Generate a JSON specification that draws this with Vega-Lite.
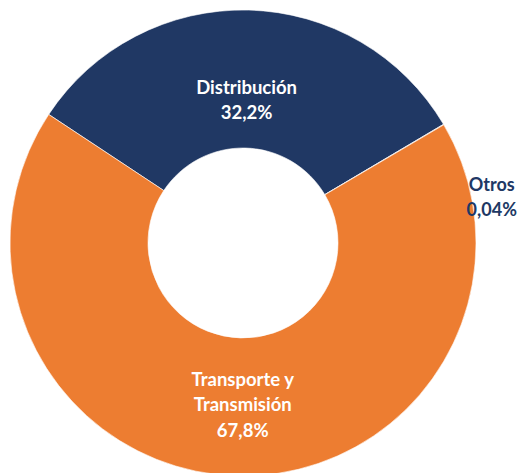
{
  "$schema": "https://vega.github.io/schema/vega-lite/v6.json",
  "width": 486,
  "height": 486,
  "padding": 0,
  "autosize": {"type": "pad"},
  "background": "white",
  "view": {"stroke": null},
  "data": {"values": [
    {"segmento": "Distribución", "valor": 32.2, "etiqueta": "Distribución\n32,2%"},
    {"segmento": "Otros", "valor": 0.04, "etiqueta": "Otros\n0,04%"},
    {"segmento": "Transporte y Transmisión", "valor": 67.8, "etiqueta": "Transporte y\nTransmisión\n67,8%"}
  ]},
  "encoding": {
    "theta": {"field": "valor", "type": "quantitative", "stack": true, "scale": {"range": [-0.986, 5.297]}}
  },
  "layer": [
    {
      "mark": {"type": "arc", "radius": 233, "radius2": 95, "stroke": "white", "strokeWidth": 0.6},
      "encoding": {
        "color": {"field": "segmento", "type": "nominal", "legend": null,
          "scale": {"domain": ["Distribución", "Otros", "Transporte y Transmisión"], "range": ["#203864", "#A5A5A5", "#ED7D31"]}}
      }
    },
    {
      "mark": {"type": "text", "radius": 143, "dy": -12.5, "font": "Lato", "fontSize": 18.5, "fontWeight": "bold", "color": "white", "lineBreak": "\n", "lineHeight": 25, "baseline": "middle", "align": "center"},
      "encoding": {
        "text": {"condition": {"test": "datum.segmento === 'Distribución'", "field": "etiqueta"}, "value": ""}
      }
    },
    {
      "mark": {"type": "text", "radius": 163, "dx": 4, "dy": -26, "font": "Lato", "fontSize": 18.5, "fontWeight": "bold", "color": "white", "lineBreak": "\n", "lineHeight": 25.5, "baseline": "middle", "align": "center"},
      "encoding": {
        "text": {"condition": {"test": "datum.segmento === 'Transporte y Transmisión'", "field": "etiqueta"}, "value": ""}
      }
    },
    {
      "mark": {"type": "text", "radius": 254, "dx": 30, "dy": 72, "font": "Lato", "fontSize": 18, "fontWeight": "bold", "color": "#203864", "lineBreak": "\n", "lineHeight": 25, "baseline": "middle", "align": "center"},
      "encoding": {
        "text": {"condition": {"test": "datum.segmento === 'Otros'", "field": "etiqueta"}, "value": ""}
      }
    }
  ]
}
